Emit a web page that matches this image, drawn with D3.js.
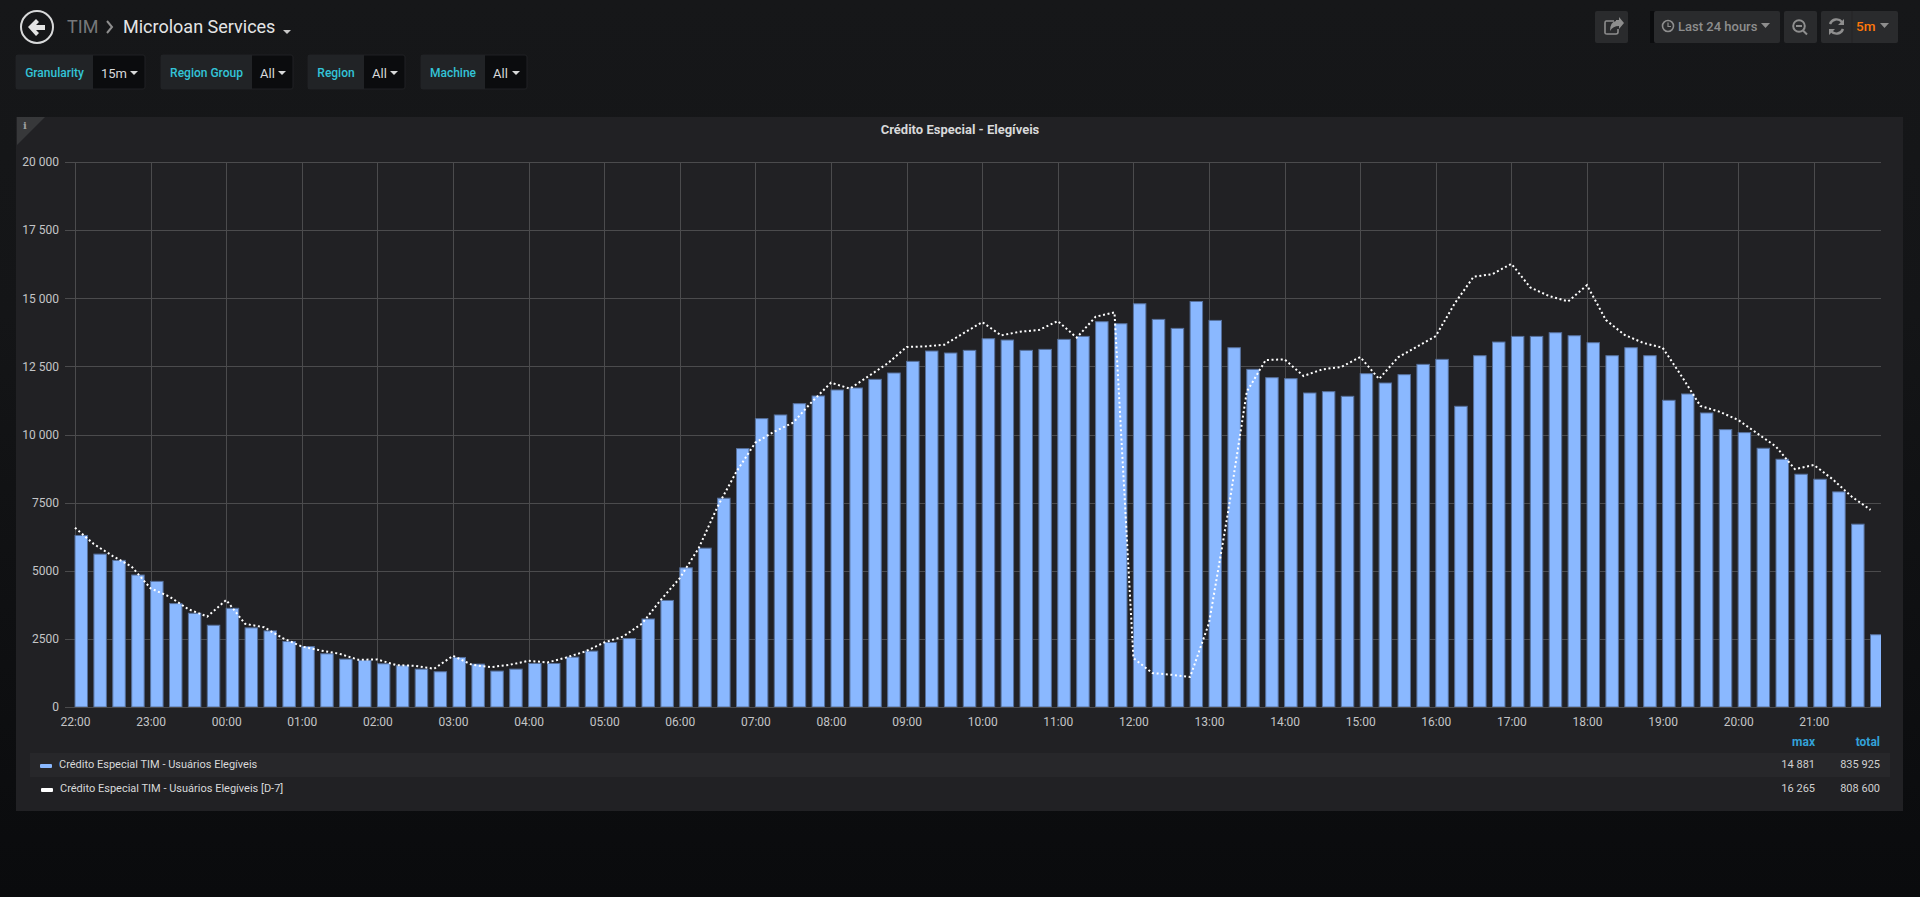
<!DOCTYPE html>
<html>
<head>
<meta charset="utf-8">
<title>Microloan Services</title>
<script src="https://cdn.jsdelivr.net/npm/d3@7"></script>
<style>
html, body { margin: 0; padding: 0; overflow: hidden; background: #0b0c0e; }
svg { display: block; font-family: Roboto, sans-serif; }
.axis path { display: none; }
.axis line { stroke: #4b4b4d; stroke-width: 1; shape-rendering: crispEdges; }
.axis text { fill: #c4c5c7; font-size: 12px; font-family: Roboto, sans-serif; }
</style>
</head>
<body>
<div id="chart"></div>
<script>
const width = 1920;
const height = 897;

// 15 min buckets, starting at 22:00
const usuarios = [
    6295, 5610, 5380, 4843, 4610, 3794, 3440, 3000, 3622, 2903, 2793, 2403,
    2220, 1952, 1757, 1708, 1586, 1513, 1390, 1293, 1818, 1574, 1318, 1390,
    1598, 1598, 1830, 2050, 2367, 2513, 3230, 3910, 5108, 5829, 7662, 9483,
    10583, 10717, 11132, 11413, 11633, 11707, 12024, 12257, 12684, 13063, 12990, 13088,
    13515, 13466, 13088, 13124, 13491, 13600, 14139, 14065, 14798, 14224, 13894, 14881,
    14187, 13185, 12391, 12085, 12049, 11523, 11572, 11401, 12232, 11890, 12196, 12574,
    12758, 11035, 12892, 13393, 13600, 13600, 13735, 13625, 13369, 12892, 13185, 12892,
    11255, 11487, 10790, 10179, 10069, 9495, 9092, 8542, 8358, 7894, 6709, 2652
];
const usuariosD7 = [
    6576, 5978, 5539, 5148, 4355, 4050, 3587, 3318, 3928, 3050, 2928, 2525,
    2220, 2074, 1952, 1732, 1745, 1537, 1513, 1403, 1879, 1549, 1464, 1549,
    1696, 1635, 1818, 2037, 2367, 2586, 3060, 3935, 4729, 5829, 7356, 8640,
    9703, 10106, 10436, 11206, 11902, 11682, 12147, 12611, 13210, 13234, 13295, 13711,
    14126, 13638, 13772, 13833, 14163, 13552, 14322, 14481, 1796, 1246, 1185, 1100,
    3079, 7112, 11572, 12733, 12758, 12147, 12391, 12477, 12843, 12037, 12831, 13222,
    13613, 14811, 15788, 15886, 16265, 15397, 15079, 14884, 15483, 14200, 13650, 13356,
    13185, 12147, 11047, 10839, 10534, 10045, 9556, 8725, 8884, 8358, 7723, 7234
];
const yTicks = [0, 2500, 5000, 7500, 10000, 12500, 15000, 17500, 20000];
const yTickLabels = ["0", "2500", "5000", "7500", "10 000", "12 500", "15 000", "17 500", "20 000"];
const legendNames = ["Crédito Especial TIM - Usuários Elegíveis", "Crédito Especial TIM - Usuários Elegíveis [D-7]"];
const legendMax = ["14 881", "16 265"];
const legendTotal = ["835 925", "808 600"];
const templateVars = [
    { label: "Granularity", value: "15m", x: 16, split: 93, end: 145 },
    { label: "Region Group", value: "All", x: 161, split: 252, end: 293 },
    { label: "Region", value: "All", x: 308, split: 364, end: 405 },
    { label: "Machine", value: "All", x: 421, split: 485, end: 527 }
];

const plot = { left: 75, right: 1881, top: 162, bottom: 707 };
const barColor = "#8ab8ff";

const svg = d3.select("#chart")
    .append("svg")
    .attr("width", width)
    .attr("height", height);

const defs = svg.append("defs");
const bgGrad = defs.append("linearGradient")
    .attr("id", "bg")
    .attr("x1", 0).attr("x2", 0).attr("y1", 0).attr("y2", 1);
bgGrad.append("stop").attr("offset", "0%").attr("stop-color", "#161719");
bgGrad.append("stop").attr("offset", "35%").attr("stop-color", "#141517");
bgGrad.append("stop").attr("offset", "100%").attr("stop-color", "#0a0b0d");
defs.append("clipPath").attr("id", "plotClip")
    .append("rect")
    .attr("x", plot.left - 1)
    .attr("y", plot.top - 10)
    .attr("width", plot.right - plot.left + 1)
    .attr("height", plot.bottom - plot.top + 10);

svg.append("rect").attr("width", width).attr("height", height).attr("fill", "url(#bg)");

// ---- top bar ----
const back = svg.append("g").attr("transform", "translate(37,27)");
back.append("circle").attr("r", 16).attr("fill", "none").attr("stroke", "#d8d9da").attr("stroke-width", 2);
back.append("path")
    .attr("d", "M-9,0 L-1,-8 L2,-5 L-1,-2 L8,-2 L8,3 L-1,3 L2,6 L-1,9 Z")
    .attr("fill", "#e4e4e4");

svg.append("text").attr("x", 67).attr("y", 33).attr("font-size", 18).attr("fill", "#76777a").text("TIM");
svg.append("path").attr("d", "M107,21 L112,27 L107,33")
    .attr("fill", "none").attr("stroke", "#8e8e8e").attr("stroke-width", 2);
svg.append("text").attr("x", 123).attr("y", 33).attr("font-size", 18).attr("fill", "#e4e5e6").text("Microloan Services");
svg.append("path").attr("d", "M283,30 L291,30 L287,34 Z").attr("fill", "#c8c8c8");

const topBtn = [[1595, 1628], [1654, 1780], [1784, 1817], [1821, 1898]];
svg.append("rect").attr("x", 1650).attr("y", 11).attr("width", 5).attr("height", 32).attr("fill", "#0b0c0e");
svg.selectAll(".topbtn").data(topBtn).enter().append("rect")
    .attr("class", "topbtn")
    .attr("x", d => d[0]).attr("y", 11)
    .attr("width", d => d[1] - d[0]).attr("height", 32)
    .attr("rx", 2).attr("fill", "#2a2b2d");
svg.append("line").attr("x1", 1852).attr("x2", 1852).attr("y1", 11).attr("y2", 43).attr("stroke", "#242527");

const iconColor = "#8e8e8e";
// share
svg.append("path")
    .attr("d", "M1614,21 L1606,21 Q1605,21 1605,23 L1605,33 Q1605,34 1607,34 L1616,34 Q1618,34 1618,32 L1618,29")
    .attr("fill", "none").attr("stroke", iconColor).attr("stroke-width", 1.6);
svg.append("path")
    .attr("d", "M1616,20 L1619,20 L1619,17 L1624,23 L1619,29 L1619,26 Q1613,26 1610,31 Q1610,22 1616,21 Z")
    .attr("fill", iconColor);
// clock
svg.append("circle").attr("cx", 1668).attr("cy", 26).attr("r", 5.5).attr("fill", "none").attr("stroke", iconColor).attr("stroke-width", 1.6);
svg.append("path").attr("d", "M1668,22.5 L1668,26.5 L1671,26.5").attr("fill", "none").attr("stroke", iconColor).attr("stroke-width", 1.2);
svg.append("text").attr("x", 1678).attr("y", 31).attr("font-size", 13).attr("font-weight", 500).attr("fill", iconColor).text("Last 24 hours");
svg.append("path").attr("d", "M1761,23 L1770,23 L1765.5,28 Z").attr("fill", iconColor);
// zoom out
svg.append("circle").attr("cx", 1799).attr("cy", 26).attr("r", 5.8).attr("fill", "none").attr("stroke", iconColor).attr("stroke-width", 2);
svg.append("path").attr("d", "M1796,26 L1802,26 M1803,30.5 L1807,34.5").attr("stroke", iconColor).attr("stroke-width", 2);
// refresh
svg.append("path")
    .attr("d", "M1830,24 A7,7 0 0 1 1842,22 M1843,29 A7,7 0 0 1 1831,31")
    .attr("fill", "none").attr("stroke", iconColor).attr("stroke-width", 2.4);
svg.append("path").attr("d", "M1844,19 L1844,25 L1838,25 Z M1829,35 L1829,29 L1835,29 Z").attr("fill", iconColor);
svg.append("text").attr("x", 1856).attr("y", 31).attr("font-size", 13.5).attr("font-weight", 500).attr("fill", "#ff780a").text("5m");
svg.append("path").attr("d", "M1880,23 L1889,23 L1884.5,28 Z").attr("fill", iconColor);

// ---- template variables ----
const tv = svg.selectAll(".tvar").data(templateVars).enter().append("g").attr("class", "tvar");
tv.append("rect")
    .attr("x", d => d.x).attr("y", 55)
    .attr("width", d => d.end - d.x).attr("height", 34)
    .attr("rx", 2).attr("fill", "#0b0c0e").attr("stroke", "#202124");
tv.append("rect")
    .attr("x", d => d.x).attr("y", 55)
    .attr("width", d => d.split - d.x).attr("height", 34)
    .attr("fill", "#212326");
tv.append("text")
    .attr("x", d => (d.x + d.split) / 2).attr("y", 77)
    .attr("text-anchor", "middle")
    .attr("font-size", 12).attr("font-weight", 500).attr("fill", "#33c4d8")
    .text(d => d.label);
tv.append("text")
    .attr("x", d => d.split + 8).attr("y", 78)
    .attr("font-size", 13).attr("fill", "#d8d9da")
    .text(d => d.value);
tv.append("path")
    .attr("d", d => `M${d.end - 15},71 L${d.end - 7},71 L${d.end - 11},75 Z`)
    .attr("fill", "#d8d9da");

// ---- panel ----
svg.append("rect").attr("x", 16).attr("y", 117).attr("width", 1887).attr("height", 694).attr("fill", "#212124");
svg.append("path").attr("d", "M17,117 L45,117 L17,145 Z").attr("fill", "#37383a");
svg.append("text").attr("x", 25).attr("y", 129).attr("text-anchor", "middle")
    .attr("font-size", 10).attr("font-weight", 700).attr("font-family", "DejaVu Serif, serif").attr("fill", "#a0a0a0").text("i");
svg.append("text").attr("x", 960).attr("y", 134).attr("text-anchor", "middle")
    .attr("font-size", 13).attr("font-weight", 700).attr("fill", "#d8d9da")
    .text("Crédito Especial - Elegíveis");

// ---- chart ----
const t0 = new Date(2019, 0, 1, 22, 0);
const times = usuarios.map((d, i) => d3.timeMinute.offset(t0, i * 15));

const x = d3.scaleTime()
    .domain([t0, new Date(2019, 0, 2, 21, 53, 20)])
    .range([plot.left, plot.right]);
const y = d3.scaleLinear()
    .domain([0, 20000])
    .range([plot.bottom, plot.top]);

const yAxis = d3.axisLeft(y)
    .tickValues(yTicks)
    .tickSize(-(plot.right - plot.left + 10))
    .tickPadding(6)
    .tickFormat((d, i) => yTickLabels[i]);
const gy = svg.append("g")
    .attr("class", "axis")
    .attr("transform", `translate(${plot.left - 10},0)`)
    .call(yAxis);
gy.selectAll("line").attr("x1", 0).attr("x2", plot.right - plot.left + 10);

const xAxis = d3.axisBottom(x)
    .ticks(d3.timeHour.every(1))
    .tickSize(-(plot.bottom - plot.top))
    .tickPadding(10)
    .tickFormat(d3.timeFormat("%H:%M"));
svg.append("g")
    .attr("class", "axis")
    .attr("transform", `translate(0,${plot.bottom})`)
    .call(xAxis);

const barWidth = (x(times[1]) - x(times[0])) * 0.66;
const marks = svg.append("g").attr("clip-path", "url(#plotClip)");

marks.selectAll(".bar")
    .data(usuarios)
    .enter()
    .append("rect")
    .attr("class", "bar")
    .attr("x", (d, i) => x(times[i]))
    .attr("y", d => y(d))
    .attr("width", barWidth)
    .attr("height", d => y(0) - y(d))
    .attr("fill", barColor)
    .attr("stroke", "#56709c")
    .attr("stroke-width", 1);

const line = d3.line()
    .x((d, i) => x(times[i]))
    .y(d => y(d));

marks.append("path")
    .datum(usuariosD7)
    .attr("d", line)
    .attr("fill", "none")
    .attr("stroke", "#ffffff")
    .attr("stroke-width", 2)
    .attr("stroke-dasharray", "2 2.6");

// ---- legend ----
svg.append("text").attr("x", 1815).attr("y", 746).attr("text-anchor", "end")
    .attr("font-size", 12).attr("font-weight", 700).attr("fill", "#33a2d8").text("max");
svg.append("text").attr("x", 1880).attr("y", 746).attr("text-anchor", "end")
    .attr("font-size", 12).attr("font-weight", 700).attr("fill", "#33a2d8").text("total");
svg.append("rect").attr("x", 30).attr("y", 753).attr("width", 1860).attr("height", 24).attr("fill", "#27272a");

const legend = svg.selectAll(".legend")
    .data(legendNames)
    .enter()
    .append("g")
    .attr("class", "legend")
    .attr("transform", (d, i) => `translate(0,${768 + i * 24})`);
legend.append("rect")
    .attr("x", (d, i) => 40 + i)
    .attr("y", -4)
    .attr("width", 12)
    .attr("height", 4)
    .attr("rx", 1)
    .attr("fill", (d, i) => i === 0 ? barColor : "#ffffff");
legend.append("text")
    .attr("x", (d, i) => 59 + i)
    .attr("font-size", 11).attr("fill", "#d8d9da")
    .text(d => d);
legend.append("text")
    .attr("x", 1815).attr("text-anchor", "end")
    .attr("font-size", 11).attr("fill", "#d0d0d0")
    .text((d, i) => legendMax[i]);
legend.append("text")
    .attr("x", 1880).attr("text-anchor", "end")
    .attr("font-size", 11).attr("fill", "#d0d0d0")
    .text((d, i) => legendTotal[i]);
</script>
</body>
</html>
